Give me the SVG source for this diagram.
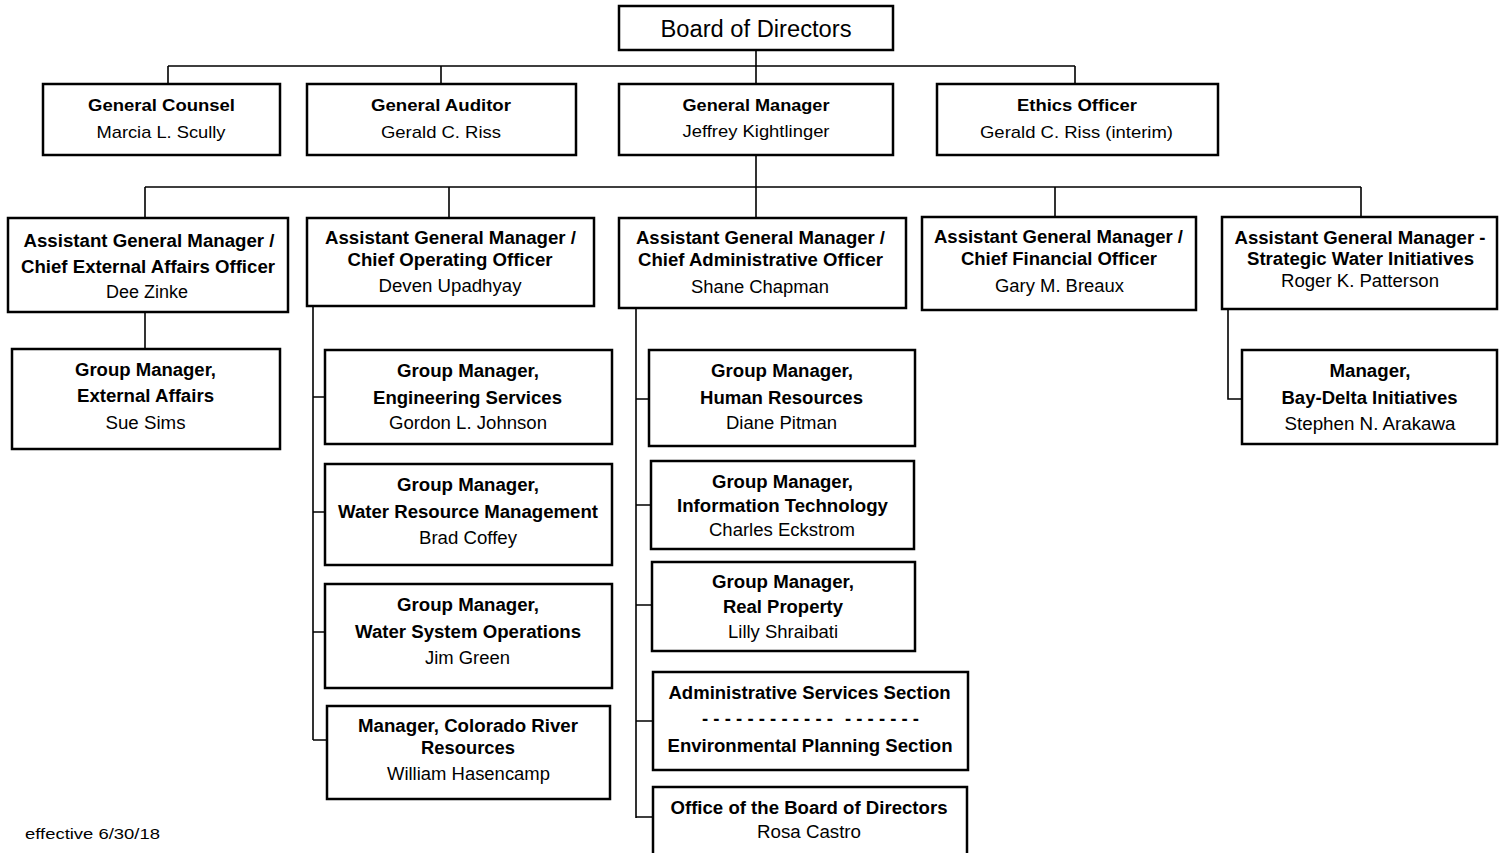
<svg xmlns="http://www.w3.org/2000/svg" width="1502" height="853" viewBox="0 0 1502 853">
<style>
.box{fill:#fff;stroke:#000;stroke-width:2.5}
.c{stroke:#000;stroke-width:1.6;fill:none}
text{font-family:"Liberation Sans",Arial,sans-serif;font-size:17.5px;text-anchor:middle;fill:#000}
.b{font-weight:bold}
.s{font-size:17px}
</style>
<rect width="1502" height="853" fill="#fff"/>
<g id="connectors">
<path class="c" d="M756 50V84M168 66H1075M168 66V84M441 66V84M1075 66V84"/>
<path class="c" d="M756 155V218M145 187H1361M145 187V218M449 187V218M1055 187V217M1361 187V217"/>
<path class="c" d="M145 312V349"/>
<path class="c" d="M313 306V740M313 397H325M313 512H325M313 632H325M313 740H327"/>
<path class="c" d="M636 308V818M636 399H649M636 505H651M636 605H652M636 721H653M636 817H653"/>
<path class="c" d="M1228 309V399H1242"/>
</g>
<g id="board"><rect class="box" x="619" y="6" width="274" height="44"/><text x="756" y="37" style="font-size:23.5px" textLength="191" lengthAdjust="spacingAndGlyphs">Board of Directors</text></g>
<g id="general-counsel"><rect class="box" x="43" y="84" width="237" height="71"/><text class="b s" x="161.5" y="111" textLength="147" lengthAdjust="spacingAndGlyphs">General Counsel</text><text class="s" x="161" y="138" textLength="129" lengthAdjust="spacingAndGlyphs">Marcia L. Scully</text></g>
<g id="general-auditor"><rect class="box" x="307" y="84" width="269" height="71"/><text class="b s" x="441" y="111" textLength="140" lengthAdjust="spacingAndGlyphs">General Auditor</text><text class="s" x="441" y="138" textLength="120" lengthAdjust="spacingAndGlyphs">Gerald C. Riss</text></g>
<g id="general-manager"><rect class="box" x="619" y="84" width="274" height="71"/><text class="b s" x="756" y="111" textLength="147" lengthAdjust="spacingAndGlyphs">General Manager</text><text class="s" x="756" y="137" textLength="147" lengthAdjust="spacingAndGlyphs">Jeffrey Kightlinger</text></g>
<g id="ethics-officer"><rect class="box" x="937" y="84" width="281" height="71"/><text class="b s" x="1077" y="111" textLength="120" lengthAdjust="spacingAndGlyphs">Ethics Officer</text><text class="s" x="1076.5" y="138" textLength="193" lengthAdjust="spacingAndGlyphs">Gerald C. Riss (interim)</text></g>
<g id="agm-external"><rect class="box" x="8" y="218" width="280" height="94"/><text class="b" x="149" y="247" textLength="251" lengthAdjust="spacingAndGlyphs">Assistant General Manager /</text><text class="b" x="148" y="273" textLength="254" lengthAdjust="spacingAndGlyphs">Chief External Affairs Officer</text><text x="147" y="298" textLength="82" lengthAdjust="spacingAndGlyphs">Dee Zinke</text></g>
<g id="agm-coo"><rect class="box" x="307" y="218" width="287" height="88"/><text class="b" x="450.5" y="244" textLength="251" lengthAdjust="spacingAndGlyphs">Assistant General Manager /</text><text class="b" x="450" y="266" textLength="205" lengthAdjust="spacingAndGlyphs">Chief Operating Officer</text><text x="450" y="292" textLength="143" lengthAdjust="spacingAndGlyphs">Deven Upadhyay</text></g>
<g id="agm-cao"><rect class="box" x="619" y="218" width="287" height="90"/><text class="b" x="760.5" y="244" textLength="249" lengthAdjust="spacingAndGlyphs">Assistant General Manager /</text><text class="b" x="760.5" y="266" textLength="245" lengthAdjust="spacingAndGlyphs">Chief Administrative Officer</text><text x="760" y="293" textLength="138" lengthAdjust="spacingAndGlyphs">Shane Chapman</text></g>
<g id="agm-cfo"><rect class="box" x="922" y="217" width="274" height="93"/><text class="b" x="1058.5" y="243" textLength="249" lengthAdjust="spacingAndGlyphs">Assistant General Manager /</text><text class="b" x="1059" y="265" textLength="196" lengthAdjust="spacingAndGlyphs">Chief Financial Officer</text><text x="1059.5" y="292" textLength="129" lengthAdjust="spacingAndGlyphs">Gary M. Breaux</text></g>
<g id="agm-swi"><rect class="box" x="1222" y="217" width="275" height="92"/><text class="b" x="1360" y="244" textLength="251" lengthAdjust="spacingAndGlyphs">Assistant General Manager -</text><text class="b" x="1360.5" y="265" textLength="227" lengthAdjust="spacingAndGlyphs">Strategic Water Initiatives</text><text x="1360" y="287" textLength="158" lengthAdjust="spacingAndGlyphs">Roger K. Patterson</text></g>
<g id="gm-external-affairs"><rect class="box" x="12" y="349" width="268" height="100"/><text class="b" x="145.5" y="376" textLength="141" lengthAdjust="spacingAndGlyphs">Group Manager,</text><text class="b" x="145.5" y="402" textLength="137" lengthAdjust="spacingAndGlyphs">External Affairs</text><text x="145.5" y="429" textLength="80" lengthAdjust="spacingAndGlyphs">Sue Sims</text></g>
<g id="gm-engineering"><rect class="box" x="325" y="350" width="287" height="94"/><text class="b" x="468" y="377" textLength="142" lengthAdjust="spacingAndGlyphs">Group Manager,</text><text class="b" x="467.5" y="404" textLength="189" lengthAdjust="spacingAndGlyphs">Engineering Services</text><text x="468" y="429" textLength="158" lengthAdjust="spacingAndGlyphs">Gordon L. Johnson</text></g>
<g id="gm-water-resource"><rect class="box" x="325" y="464" width="287" height="101"/><text class="b" x="468" y="491" textLength="142" lengthAdjust="spacingAndGlyphs">Group Manager,</text><text class="b" x="468" y="518" textLength="260" lengthAdjust="spacingAndGlyphs">Water Resource Management</text><text x="468" y="544" textLength="98" lengthAdjust="spacingAndGlyphs">Brad Coffey</text></g>
<g id="gm-water-system"><rect class="box" x="325" y="584" width="287" height="104"/><text class="b" x="468" y="611" textLength="142" lengthAdjust="spacingAndGlyphs">Group Manager,</text><text class="b" x="468" y="638" textLength="226" lengthAdjust="spacingAndGlyphs">Water System Operations</text><text x="467.5" y="664" textLength="85" lengthAdjust="spacingAndGlyphs">Jim Green</text></g>
<g id="mgr-colorado"><rect class="box" x="327" y="706" width="283" height="93"/><text class="b" x="468" y="732" textLength="220" lengthAdjust="spacingAndGlyphs">Manager, Colorado River</text><text class="b" x="468" y="754" textLength="94" lengthAdjust="spacingAndGlyphs">Resources</text><text x="468.5" y="780" textLength="163" lengthAdjust="spacingAndGlyphs">William Hasencamp</text></g>
<g id="gm-hr"><rect class="box" x="649" y="350" width="266" height="96"/><text class="b" x="782" y="377" textLength="142" lengthAdjust="spacingAndGlyphs">Group Manager,</text><text class="b" x="781.5" y="404" textLength="163" lengthAdjust="spacingAndGlyphs">Human Resources</text><text x="781.5" y="429" textLength="111" lengthAdjust="spacingAndGlyphs">Diane Pitman</text></g>
<g id="gm-it"><rect class="box" x="651" y="461" width="263" height="88"/><text class="b" x="782.5" y="488" textLength="141" lengthAdjust="spacingAndGlyphs">Group Manager,</text><text class="b" x="782.5" y="512" textLength="211" lengthAdjust="spacingAndGlyphs">Information Technology</text><text x="782" y="536" textLength="146" lengthAdjust="spacingAndGlyphs">Charles Eckstrom</text></g>
<g id="gm-real-property"><rect class="box" x="652" y="562" width="263" height="89"/><text class="b" x="783" y="588" textLength="142" lengthAdjust="spacingAndGlyphs">Group Manager,</text><text class="b" x="783" y="613" textLength="120" lengthAdjust="spacingAndGlyphs">Real Property</text><text x="783" y="638" textLength="110" lengthAdjust="spacingAndGlyphs">Lilly Shraibati</text></g>
<g id="admin-env-sections"><rect class="box" x="653" y="672" width="315" height="98"/><text class="b" x="809.5" y="699" textLength="282" lengthAdjust="spacingAndGlyphs">Administrative Services Section</text><text class="b" x="767.5" y="725" textLength="131" lengthAdjust="spacingAndGlyphs">- - - - - - - - - - - -</text><text class="b" x="882" y="725" textLength="74" lengthAdjust="spacingAndGlyphs">- - - - - - -</text><text class="b" x="810" y="752" textLength="285" lengthAdjust="spacingAndGlyphs">Environmental Planning Section</text></g>
<g id="office-board"><rect class="box" x="653" y="787" width="314" height="80"/><text class="b" x="809" y="814" textLength="277" lengthAdjust="spacingAndGlyphs">Office of the Board of Directors</text><text x="809" y="838" textLength="104" lengthAdjust="spacingAndGlyphs">Rosa Castro</text></g>
<g id="mgr-bay-delta"><rect class="box" x="1242" y="350" width="255" height="94"/><text class="b" x="1370" y="377" textLength="81" lengthAdjust="spacingAndGlyphs">Manager,</text><text class="b" x="1369.5" y="404" textLength="176" lengthAdjust="spacingAndGlyphs">Bay-Delta Initiatives</text><text x="1370" y="430" textLength="171" lengthAdjust="spacingAndGlyphs">Stephen N. Arakawa</text></g>
<text x="25" y="839" style="text-anchor:start;font-size:15px" textLength="135" lengthAdjust="spacingAndGlyphs">effective 6/30/18</text>
</svg>
